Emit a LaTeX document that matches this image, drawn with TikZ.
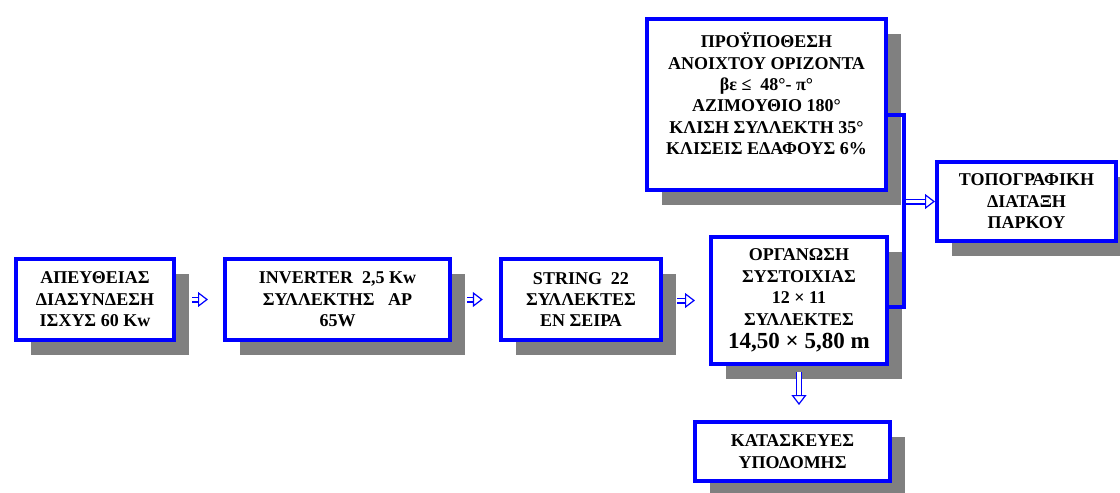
\documentclass[tikz,border=0pt]{standalone}
\usepackage{fontspec}
\setmainfont{Liberation Serif}
\usetikzlibrary{arrows.meta,shadows}

\begin{document}
\begin{tikzpicture}[x=0.5pt, y=-0.5pt,
  kouti/.style={draw=blue, line width=2.2pt, fill=white, align=center, inner sep=0pt,
    font=\bfseries\fontsize{9}{10.7}\selectfont,
    drop shadow={shadow xshift=7.5pt, shadow yshift=-7.5pt, fill=gray, opacity=1}},
  agkyli/.style={draw=blue, line width=2.2pt},
  koilo/.style={draw=blue, line width=0.6pt, double=white, double distance=1.8pt,
    -{Triangle[fill=white, length=5pt, width=7.5pt]}}]
 \useasboundingbox (0,0) rectangle (1120,493);
 \node[kouti, minimum width=79pt, minimum height=40.3pt] (apeftheias) at (95,299.5)
   {ΑΠΕΥΘΕΙΑΣ\\ ΔΙΑΣΥΝΔΕΣΗ\\ ΙΣΧΥΣ 60 Kw};
 \node[kouti, minimum width=112.3pt, minimum height=40.3pt] (inverter) at (337.5,299.5)
   {INVERTER\ \ 2,5 Kw\\ ΣΥΛΛΕΚΤΗΣ\ \ \ AP\\ 65W};
 \node[kouti, minimum width=80pt, minimum height=40.3pt] (string) at (581,299.5)
   {STRING\ \ 22\\ ΣΥΛΛΕΚΤΕΣ\\ ΕΝ ΣΕΙΡΑ};
 \node[kouti, minimum width=87.8pt, minimum height=63.3pt] (organosi) at (799,300.5)
   {ΟΡΓΑΝΩΣΗ\\ ΣΥΣΤΟΙΧΙΑΣ\\ 12 × 11\\ ΣΥΛΛΕΚΤΕΣ\\[1pt]
    {\fontsize{11.5}{13}\selectfont 14,50 × 5,80 m}};
 \node[kouti, minimum width=119.3pt, minimum height=85.3pt] (proypothesi) at (766.5,104.5)
   {ΠΡΟΫΠΟΘΕΣΗ\\ ΑΝΟΙΧΤΟΥ ΟΡΙΖΟΝΤΑ\\ βε ≤\ \ 48°- π°\\ ΑΖΙΜΟΥΘΙΟ 180°\\
    ΚΛΙΣΗ ΣΥΛΛΕΚΤΗ 35°\\ ΚΛΙΣΕΙΣ ΕΔΑΦΟΥΣ 6\%\\ \mbox{}};
 \node[kouti, minimum width=89.3pt, minimum height=39.3pt] (topografiki) at (1026.5,201.5)
   {ΤΟΠΟΓΡΑΦΙΚΗ\\ ΔΙΑΤΑΞΗ\\ ΠΑΡΚΟΥ};
 \node[kouti, minimum width=97.3pt, minimum height=29.3pt] (kataskeves) at (792.5,451.5)
   {ΚΑΤΑΣΚΕΥΕΣ\\ ΥΠΟΔΟΜΗΣ};

 \coordinate (agk1) at (904,115);
 \coordinate (agk2) at (904,307);
 \draw[agkyli] (proypothesi.east |- agk1) -- (agk1) -- (agk2) -- (organosi.east |- agk2);

 \draw[koilo, shorten <=8pt, shorten >=7.5pt] (apeftheias) -- (inverter);
 \draw[koilo, shorten <=7.5pt, shorten >=8pt] (inverter) -- (string);
 \draw[koilo, shorten <=7pt, shorten >=7pt] (string.east |- organosi) -- (organosi);
 \draw[koilo, shorten <=3pt, shorten >=7.5pt] (organosi.south) -- (organosi.south |- kataskeves.north);
 \draw[koilo, shorten <=1pt] (agk1 |- topografiki.west) -- (topografiki.west);
\end{tikzpicture}
\end{document}
